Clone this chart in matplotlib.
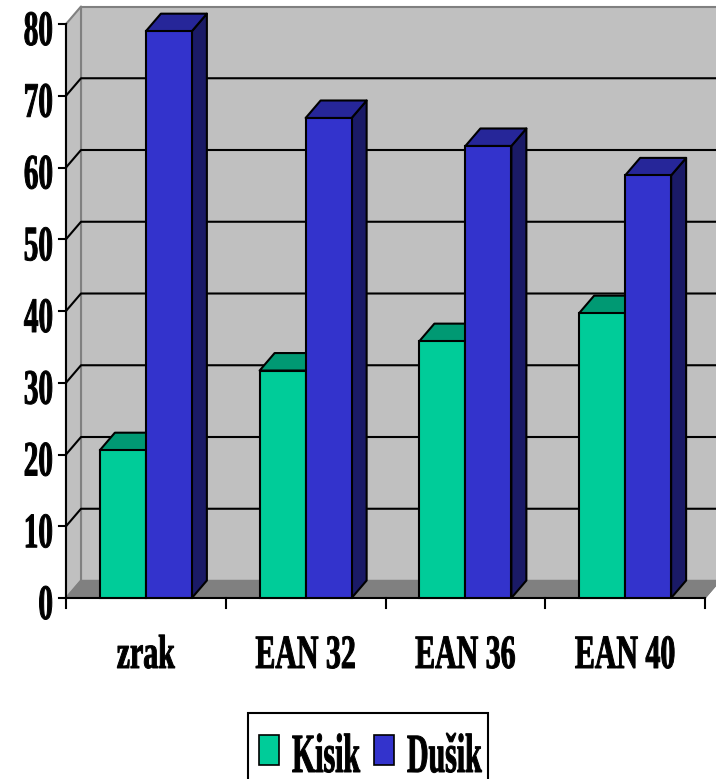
import matplotlib
matplotlib.use('Agg')
import matplotlib.pyplot as plt
from matplotlib.patches import Polygon, Rectangle
from matplotlib.patheffects import AbstractPathEffect
from matplotlib.transforms import Affine2D

# data
categories = ['zrak', 'EAN 32', 'EAN 36', 'EAN 40']
kisik = [20.6, 31.7, 35.8, 39.7]
dusik = [79, 66.9, 63, 58.9]
y_ticks = [0, 10, 20, 30, 40, 50, 60, 70, 80]
series_names = ['Kisik', 'Dušik']

GREEN, GREEN_TOP = '#00CC99', '#009973'
BLUE, BLUE_TOP, BLUE_SIDE = '#3333CC', '#262699', '#1A1A66'
DX = 15 / 159.75    # depth of the 3d box in data units
DY = 17.5 / 7.175
BAR_W = 46 / 159.75


# the original text is tall, narrow and heavy, so stretch real text along its height
class Stretch(AbstractPathEffect):
    def __init__(self, k, stroke=0.7):
        super().__init__()
        self.k = k
        self.stroke = stroke

    def draw_path(self, renderer, gc, tpath, affine, rgbFace=None):
        gc0 = renderer.new_gc()
        gc0.copy_properties(gc)
        gc0.set_linewidth(self.stroke)
        gc0.set_foreground('black')
        renderer.draw_path(gc0, tpath, Affine2D().scale(1, self.k) + affine, rgbFace)
        gc0.restore()


plt.rcParams['font.family'] = ['Liberation Serif', 'DejaVu Serif']
plt.rcParams['font.weight'] = 'bold'

W, H = 716, 779
fig = plt.figure(figsize=(W / 100, H / 100), dpi=100)
ax = fig.add_axes([66 / W, (H - 598) / H, 639 / W, 574 / H])
ax.set_xlim(0, 4)
ax.set_ylim(0, 80)
ax.axis('off')


def poly(points, color, edge='black', lw=1.5, z=1):
    ax.add_patch(Polygon(points, closed=True, facecolor=color, edgecolor=edge, linewidth=lw,
                         clip_on=False, zorder=z, joinstyle='round'))


# walls and floor
poly([(DX, DY), (4 + DX, DY), (4 + DX, 80 + DY), (DX, 80 + DY)], '#C0C0C0', '#808080', 1.5, 0)
poly([(0, 0), (DX, DY), (DX, 80 + DY), (0, 80)], '#C0C0C0', '#808080', 1.5, 0)
poly([(0, 0), (4, 0), (4 + DX, DY), (DX, DY)], '#808080', '#808080', 1, 0)

# grid on the back wall and the side wall
for v in y_ticks[1:-1]:
    ax.plot([0, DX, 4 + DX], [v, v + DY, v + DY], color='black', lw=1.5, zorder=0.5, clip_on=False)

# axis lines
ax.plot([0, 0], [0, 80], color='black', lw=1.5, zorder=0.6, clip_on=False)
ax.plot([0, 4], [0, 0], color='black', lw=1.5, zorder=0.6, clip_on=False)
ax.plot([4, 4 + DX], [0, DY], color='#808080', lw=1, zorder=0.6, clip_on=False)

# bars, one group at a time so that blue covers green
for i in range(len(categories)):
    for left, val, front, top, side in [(i + 0.5 - BAR_W, kisik[i], GREEN, GREEN_TOP, GREEN_TOP),
                                        (i + 0.5, dusik[i], BLUE, BLUE_TOP, BLUE_SIDE)]:
        poly([(left + BAR_W, 0), (left + BAR_W + DX, DY), (left + BAR_W + DX, val + DY), (left + BAR_W, val)], side)
        poly([(left, val), (left + DX, val + DY), (left + BAR_W + DX, val + DY), (left + BAR_W, val)], top)
        ax.bar(left, val, width=BAR_W, align='edge', color=front, edgecolor='black', linewidth=1.5, clip_on=False)

# ticks
for v in y_ticks:
    ax.plot([-7 / 159.75, 0], [v, v], color='black', lw=1.5, clip_on=False, zorder=3)
    t = ax.annotate(str(v), xy=(0, v), xytext=(-13, -21), textcoords='offset pixels',
                    ha='right', va='baseline', fontsize=21, annotation_clip=False)
    t.set_path_effects([Stretch(1.7)])
for i in range(len(categories) + 1):
    ax.plot([i, i], [0, -10 / 7.175], color='black', lw=1.5, clip_on=False, zorder=3)
for i, c in enumerate(categories):
    t = ax.annotate(c, xy=(i + 0.5, 0), xytext=(0, -70), textcoords='offset pixels',
                    ha='center', va='baseline', fontsize=21.5, annotation_clip=False)
    t.set_path_effects([Stretch(1.6)])

# legend
fig.add_artist(Rectangle((248 / W, -5 / H), 240 / W, (H - 713 + 5) / H, transform=fig.transFigure,
                         facecolor='white', edgecolor='black', linewidth=1.5))
for name, color, x0, xt in [(series_names[0], GREEN, 259, 292), (series_names[1], BLUE, 374, 407)]:
    fig.add_artist(Rectangle((x0 / W, (H - 765) / H), 20 / W, 30 / H, transform=fig.transFigure,
                             facecolor=color, edgecolor='black', linewidth=1.2))
    t = fig.text(xt / W, (H - 772) / H, name, ha='left', va='baseline', fontsize=21.5)
    t.set_path_effects([Stretch(1.85)])

fig.savefig('out.png', dpi=100, facecolor='white')
